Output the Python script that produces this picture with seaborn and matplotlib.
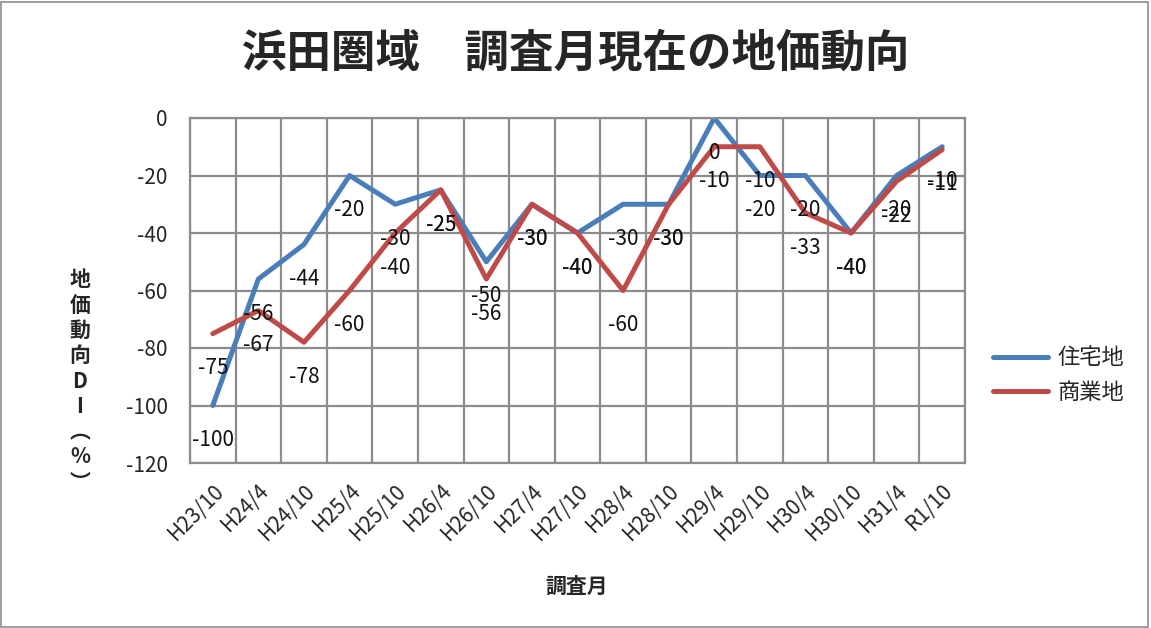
import pandas as pd
import seaborn as sns
import matplotlib.pyplot as plt
from matplotlib.patches import Rectangle

# survey months
months = ["H23/10", "H24/4", "H24/10", "H25/4", "H25/10", "H26/4", "H26/10", "H27/4",
          "H27/10", "H28/4", "H28/10", "H29/4", "H29/10", "H30/4", "H30/10", "H31/4", "R1/10"]

# land price DI (%)
residential = [-100, -56, -44, -20, -30, -25, -50, -30, -40, -30, -30, 0, -20, -20, -40, -20, -10]
commercial = [-75, -67, -78, -60, -40, -25, -56, -30, -40, -60, -30, -10, -10, -33, -40, -22, -11]

series_names = ["住宅地", "商業地"]
colors = {"住宅地": "#4A7EBB", "商業地": "#BE4B48"}

y_ticks = [0, -20, -40, -60, -80, -100, -120]

df = pd.DataFrame({
    "month": months * 2,
    "pos": list(range(len(months))) * 2,
    "DI": residential + commercial,
    "series": [series_names[0]] * len(months) + [series_names[1]] * len(months),
})

sns.set_style("white")
plt.rcParams['font.family'] = ['Noto Sans CJK JP', 'DejaVu Sans']

fig = plt.figure(figsize=(11.51, 6.28), dpi=100)
ax = fig.add_axes([190 / 1151, 1 - 463 / 628, (965 - 190) / 1151, (463 - 118) / 628])

sns.lineplot(data=df, x="pos", y="DI", hue="series", palette=colors,
             hue_order=series_names, linewidth=3.6, ax=ax, legend=True)

grid_c = "#8C8C8C"
ax.set_xlim(-0.5, len(months) - 0.5)
ax.set_ylim(-120, 0)
ax.set_yticks(y_ticks)
ax.set_yticklabels([str(v) for v in y_ticks])
ax.set_xticks(range(len(months)))
ax.set_xticklabels(months, rotation=45, ha="right", va="top", rotation_mode="anchor")
ax.set_xticks([i - 0.5 for i in range(len(months) + 1)], minor=True)
ax.grid(False)
ax.grid(True, which="minor", axis="x", color=grid_c, linewidth=1.6)
ax.grid(True, which="major", axis="y", color=grid_c, linewidth=1.6)
ax.set_axisbelow(True)
for s in ax.spines.values():
    s.set_color(grid_c)
    s.set_linewidth(1.6)
ax.tick_params(axis="both", which="both", length=0, labelsize=15)
ax.tick_params(axis="y", pad=16)
ax.tick_params(axis="x", pad=12)
ax.set_xlabel("")
ax.set_ylabel("")

# data labels under each point
for vals in [residential, commercial]:
    for i, v in enumerate(vals):
        ax.annotate(str(v), (i, v), xytext=(0, -25), textcoords="offset points",
                    ha="center", va="center", fontsize=15, color="#111111",
                    annotation_clip=False)

# legend
handles, labels = ax.get_legend_handles_labels()
ax.legend(handles, labels, loc="center left", bbox_to_anchor=(1.01, 0.255),
          frameon=False, fontsize=16, handlelength=2.5, labelspacing=0.5,
          handletextpad=0.4)

fig.text(0.5, 1 - 54 / 628, "浜田圏域　調査月現在の地価動向", ha="center", va="center",
         fontsize=32, fontweight="bold")
fig.text(577 / 1151, 1 - 586 / 628, "調査月", ha="center", va="center",
         fontsize=15, fontweight="bold")
fig.text(80 / 1151, 1 - 381 / 628, "地\n価\n動\n向\nD\nI\n︵\n%\n︶", ha="center",
         va="center", fontsize=15, fontweight="bold", linespacing=1.25)

fig.patches.append(Rectangle((0.001, 0.002), 0.996, 0.995, transform=fig.transFigure,
                             fill=False, edgecolor="#8C8C8C", linewidth=1.2))

fig.savefig("out.png", dpi=100)
